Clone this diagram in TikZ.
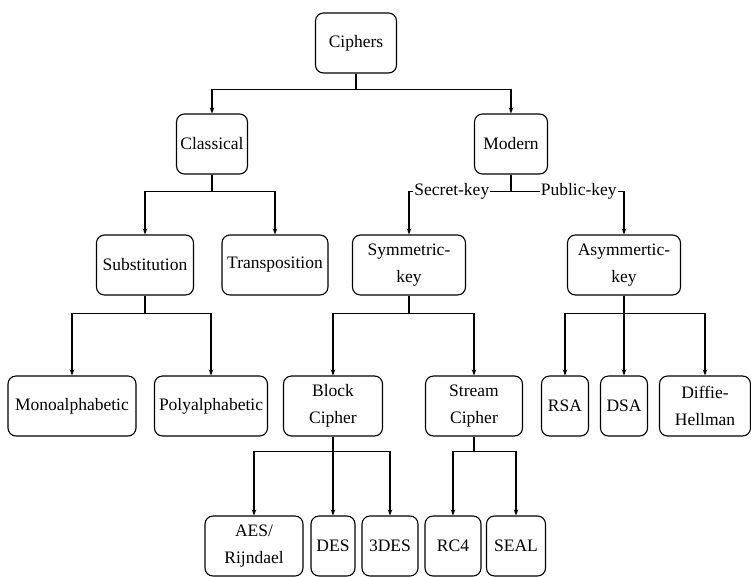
\documentclass[tikz,border=0pt]{standalone}
\usepackage{fontspec}
\setmainfont{Liberation Serif}
\usepackage{tikz}
\usetikzlibrary{arrows.meta}

\begin{document}
\begin{tikzpicture}[x=1pt,y=-1pt,
        box/.style={draw, rounded corners=8pt, align=center, minimum height=60pt, inner sep=1pt,
                    line width=1.1pt, font=\fontsize{17.5}{27}\selectfont},
        arr/.style={line width=1.1pt, -{Stealth[length=6pt,width=4.5pt]}},
        lbl/.style={fill=white, inner sep=1pt, font=\fontsize{17.5}{20}\selectfont}]
    \useasboundingbox (0,0) rectangle (751,576);
    % level 0 and 1
    \node[box, minimum width=81pt] (ciphers)   at (356,43)  {Ciphers};
    \node[box, minimum width=71pt] (classical) at (212,144) {Classical};
    \node[box, minimum width=73pt] (modern)    at (511,144) {Modern};
    % level 2
    \node[box, minimum width=97pt]  (subst)   at (145,265) {Substitution};
    \node[box, minimum width=106pt] (transp)  at (275,265) {Transposition};
    \node[box, minimum width=113pt] (symkey)  at (409,265) {Symmetric-\\key};
    \node[box, minimum width=113pt] (asymkey) at (624,265) {Asymmertic-\\key};
    % level 3
    \node[box, minimum width=128pt] (mono)   at (72,406)  {Monoalphabetic};
    \node[box, minimum width=113pt] (poly)   at (211,406) {Polyalphabetic};
    \node[box, minimum width=99pt]  (block)  at (333,406) {Block\\Cipher};
    \node[box, minimum width=97pt]  (stream) at (474,406) {Stream\\Cipher};
    \node[box, minimum width=47pt]  (rsa)    at (565,406) {RSA};
    \node[box, minimum width=47pt]  (dsa)    at (624,406) {DSA};
    \node[box, minimum width=91pt]  (diffie) at (705,406) {Diffie-\\Hellman};
    % level 4
    \node[box, minimum width=98pt] (aes)  at (254,546) {AES/\\Rijndael};
    \node[box, minimum width=44pt] (des)  at (333,546) {DES};
    \node[box, minimum width=56pt] (tdes) at (390,546) {3DES};
    \node[box, minimum width=56pt] (rc4)  at (453,546) {RC4};
    \node[box, minimum width=59pt] (seal) at (516,546) {SEAL};

    \draw[arr] (ciphers.south) -- ++(0,16) -| (classical.north);
    \draw[arr] (ciphers.south) -- ++(0,16) -| (modern.north);
    \draw[arr] (classical.south) -- ++(0,17) -| (subst.north);
    \draw[arr] (classical.south) -- ++(0,17) -| (transp.north);
    \draw[arr] (modern.south) -- ++(0,17) -| node[lbl, pos=0.29] {Secret-key} (symkey.north);
    \draw[arr] (modern.south) -- ++(0,17) -| node[lbl, pos=0.3] {Public-key} (asymkey.north);
    \draw[arr] (subst.south) -- ++(0,18) -| (mono.north);
    \draw[arr] (subst.south) -- ++(0,18) -| (poly.north);
    \draw[arr] (symkey.south) -- ++(0,18) -| (block.north);
    \draw[arr] (symkey.south) -- ++(0,18) -| (stream.north);
    \draw[arr] (asymkey.south) -- ++(0,18) -| (rsa.north);
    \draw[arr] (asymkey.south) -- (dsa.north);
    \draw[arr] (asymkey.south) -- ++(0,18) -| (diffie.north);
    \draw[arr] (block.south) -- ++(0,15) -| (aes.north);
    \draw[arr] (block.south) -- (des.north);
    \draw[arr] (block.south) -- ++(0,15) -| (tdes.north);
    \draw[arr] (stream.south) -- ++(0,15) -| (rc4.north);
    \draw[arr] (stream.south) -- ++(0,15) -| (seal.north);
\end{tikzpicture}
\end{document}
